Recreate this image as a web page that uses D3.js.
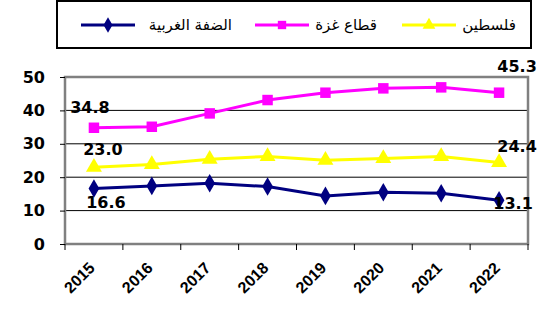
<!DOCTYPE html>
<html><head><meta charset="utf-8">
<script src="https://cdn.jsdelivr.net/npm/d3@7"></script>
<style>body{margin:0;background:#fff}svg{display:block}</style>
</head><body><svg id="c" width="552" height="324"></svg>
<script>
const years = ["2015","2016","2017","2018","2019","2020","2021","2022"];
const westBank = [16.6,17.4,18.2,17.2,14.4,15.5,15.2,13.1];
const gaza = [34.8,35.1,39.1,43.1,45.3,46.6,46.9,45.3];
const palestine = [23.0,23.8,25.4,26.2,25.1,25.6,26.2,24.4];
const yTicks = [0,10,20,30,40,50];
const names = {westBank:"الضفة الغربية", gaza:"قطاع غزة", palestine:"فلسطين"};

const svg = d3.select("#c");
const x = d3.scaleBand().domain(years).range([65,528]).padding(0);
const y = d3.scaleLinear().domain([0,50]).range([244,77]);
const cx = d => x(d) + x.bandwidth()/2;

// gridlines
svg.append("g").selectAll("line").data(yTicks.filter(v=>v>0&&v<50)).join("line")
  .attr("x1",65).attr("x2",528).attr("y1",d=>y(d)).attr("y2",d=>y(d))
  .attr("stroke","#000").attr("stroke-width",1);

// plot border
svg.append("rect").attr("x",65).attr("y",y(50)).attr("width",463).attr("height",y(0)-y(50))
  .attr("fill","none").attr("stroke","#808080").attr("stroke-width",2.5);

// y axis
const ya = svg.append("g").attr("transform","translate(65,0)")
  .call(d3.axisLeft(y).tickValues(yTicks).tickSize(5).tickPadding(15).tickFormat(d3.format("d")));
ya.select(".domain").remove();
ya.selectAll("line").attr("stroke","#000");
ya.selectAll("text").attr("font-family","DejaVu Sans").attr("font-weight","bold").attr("font-size","16px").attr("fill","#000");

// x axis ticks at band boundaries
svg.append("g").selectAll("line").data(years.concat(["end"])).join("line")
  .attr("x1",(d,i)=>65+i*x.bandwidth()).attr("x2",(d,i)=>65+i*x.bandwidth())
  .attr("y1",244).attr("y2",250).attr("stroke","#000").attr("stroke-width",1);
svg.append("g").selectAll("text").data(years).join("text")
  .attr("transform",d=>`translate(${cx(d)-2},${265}) rotate(-45)`)
  .attr("text-anchor","end").attr("dy","0.35em")
  .attr("font-family","Liberation Sans").attr("font-weight","bold").attr("font-size","16px")
  .text(d=>d);

const series = [
  {key:"palestine", vals:palestine, color:"#FFFF00", shape:d3.symbolTriangle, size:110},
  {key:"gaza", vals:gaza, color:"#FF00FF", shape:d3.symbolSquare, size:110},
  {key:"westBank", vals:westBank, color:"#000080", shape:d3.symbolDiamond, size:100}
];
const line = d3.line().x((d,i)=>cx(years[i])).y(d=>y(d));
series.forEach(s=>{
  svg.append("path").datum(s.vals).attr("d",line).attr("fill","none")
    .attr("stroke",s.color).attr("stroke-width",3);
  svg.append("g").selectAll("path").data(s.vals).join("path")
    .attr("transform",(d,i)=>`translate(${cx(years[i])},${y(d)})`)
    .attr("d",d3.symbol(s.shape,s.size)).attr("fill",s.color);
});

// data labels (first & last)
const fmt = d3.format(".1f");
const lbl = [
  {v:gaza[0], i:0, dx:-4, dy:-20},
  {v:palestine[0], i:0, dx:9, dy:-18},
  {v:westBank[0], i:0, dx:12, dy:14},
  {v:gaza[7], i:7, dx:18, dy:-26},
  {v:palestine[7], i:7, dx:18, dy:-16},
  {v:westBank[7], i:7, dx:14, dy:3}
];
svg.append("g").selectAll("text").data(lbl).join("text")
  .attr("x",d=>cx(years[d.i])+d.dx).attr("y",d=>y(d.v)+d.dy)
  .attr("text-anchor","middle").attr("dy","0.35em")
  .attr("font-family","DejaVu Sans").attr("font-weight","bold").attr("font-size","16px")
  .text(d=>fmt(d.v));

// legend
svg.append("rect").attr("x",57).attr("y",1).attr("width",474).attr("height",47)
  .attr("fill","#fff").attr("stroke","#000").attr("stroke-width",2);
const leg = [
  {s:series[2], lx:81, tx:232},
  {s:series[1], lx:255, tx:377},
  {s:series[0], lx:402, tx:516}
];
leg.forEach(l=>{
  const g = svg.append("g");
  g.append("line").attr("x1",l.lx).attr("x2",l.lx+54).attr("y1",25).attr("y2",25)
    .attr("stroke",l.s.color).attr("stroke-width",3);
  g.append("path").attr("transform",`translate(${l.lx+27},25)`).attr("d",d3.symbol(l.s.shape,70)).attr("fill",l.s.color);
  g.append("text").attr("x",l.tx).attr("y",25).attr("dy","0.35em").attr("text-anchor","end")
    .attr("font-family","DejaVu Sans").attr("font-size","15px")
    .text(names[l.s.key]);
});
</script></body></html>
